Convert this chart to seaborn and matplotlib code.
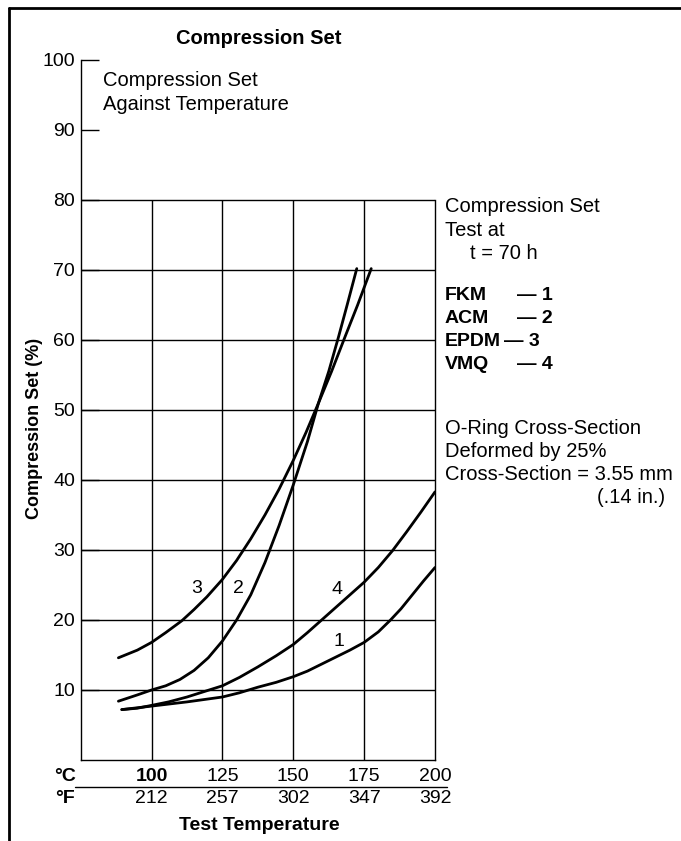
import matplotlib
matplotlib.use("Agg")
import matplotlib.pyplot as plt
from matplotlib.lines import Line2D
import seaborn as sns
import pandas as pd

# ---------------- data ----------------
fkm_t = [89.5, 100, 112.5, 125, 131, 137.5, 144, 150, 155, 160, 165, 170, 175, 180, 184.3, 188, 192.4, 196, 200]
fkm_v = [7.2, 7.7, 8.3, 9.0, 9.6, 10.4, 11.1, 11.9, 12.7, 13.7, 14.7, 15.7, 16.8, 18.3, 20.0, 21.6, 23.8, 25.6, 27.5]

acm_t = [88.3, 95, 100, 105, 110, 115, 120, 125, 130, 135, 140, 145, 150, 155, 158.9, 162.5, 166, 169, 172.4]
acm_v = [8.4, 9.3, 10.0, 10.6, 11.5, 12.8, 14.6, 17.0, 20.0, 23.6, 28.2, 33.5, 39.3, 45.5, 51.0, 55.5, 60.5, 65.0, 70.2]

epdm_t = [88.3, 95, 100, 105, 110.7, 115, 119.5, 125, 130, 135, 140, 145, 150, 154.5, 158.9, 163.5, 168.3, 172.7, 177.5]
epdm_v = [14.6, 15.7, 16.8, 18.2, 19.9, 21.5, 23.3, 25.8, 28.5, 31.6, 35.0, 38.7, 42.8, 46.8, 51.0, 55.5, 60.5, 65.0, 70.2]

vmq_t = [89.5, 95, 100, 106, 112.5, 118.75, 125, 131, 137.5, 144, 150, 155, 160, 165, 170, 175, 180, 185, 190, 195, 200]
vmq_v = [7.2, 7.4, 7.8, 8.3, 9.0, 9.8, 10.6, 11.8, 13.3, 14.9, 16.5, 18.2, 20.0, 21.8, 23.6, 25.4, 27.5, 29.9, 32.6, 35.4, 38.3]

materials = ["FKM", "ACM", "EPDM", "VMQ"]
curve_numbers = ["1", "2", "3", "4"]
label_t = [166.0, 130.8, 115.8, 165.4]
label_v = [17.0, 24.5, 24.5, 24.3]

temps_c = [100, 125, 150, 175, 200]
temps_f = [212, 257, 302, 347, 392]
y_ticks = [10, 20, 30, 40, 50, 60, 70, 80, 90, 100]
grid_y = [10, 20, 30, 40, 50, 60, 70, 80]
grid_x = [100, 125, 150, 175]

side_lines = ["Compression Set", "Test at", "t = 70 h"]
note_lines = ["O-Ring Cross-Section", "Deformed by 25%", "Cross-Section = 3.55 mm", "(.14 in.)"]

# ---------------- build frame ----------------
frames = []
for name, t, v in [("FKM", fkm_t, fkm_v), ("ACM", acm_t, acm_v),
                   ("EPDM", epdm_t, epdm_v), ("VMQ", vmq_t, vmq_v)]:
    frames.append(pd.DataFrame({"temp": t, "cs": v, "material": name}))
df = pd.concat(frames, ignore_index=True)

sns.set_style("white")
plt.rcParams["font.family"] = ["Liberation Sans", "DejaVu Sans"]
plt.rcParams["text.color"] = "black"
plt.rcParams["axes.labelcolor"] = "black"
plt.rcParams["xtick.color"] = "black"
plt.rcParams["ytick.color"] = "black"

W, H = 681, 841
fig = plt.figure(figsize=(W / 100, H / 100), dpi=100)
ax = fig.add_axes([80.7 / W, 1 - 760 / H, (435 - 80.7) / W, 700 / H])

sns.lineplot(data=df, x="temp", y="cs", hue="material",
             palette={m: "black" for m in materials}, legend=False,
             linewidth=2.0, sort=True, ax=ax)

ax.set_xlim(75, 200)
ax.set_ylim(0, 100)

# grid (box only up to 80)
ax.hlines(grid_y, 75, 200, color="black", linewidth=1.0, zorder=1)
ax.vlines(grid_x, 0, 80, color="black", linewidth=1.0, zorder=1)

for s in ["left", "bottom", "right"]:
    ax.spines[s].set_color("black")
    ax.spines[s].set_linewidth(1.0)
ax.spines["top"].set_visible(False)
ax.spines["right"].set_bounds(0, 80)

ax.set_yticks(y_ticks)
ax.set_yticklabels([str(v) for v in y_ticks])
ax.tick_params(axis="y", direction="in", length=13, width=1.0, pad=4,
               labelsize=14, colors="black", left=True)
ax.set_xticks([])
ax.set_xlabel("")
ax.set_ylabel("")

# curve numbers
for num, tx, ty in zip(curve_numbers, label_t, label_v):
    ax.text(tx, ty, num, fontsize=14, ha="center", va="center", color="black")

# bottom temperature rows
for c, f in zip(temps_c, temps_f):
    ax.text(c, -2.4, str(c), fontsize=14, ha="center", va="center",
            fontweight="bold" if c == 100 else "normal", clip_on=False)
    ax.text(c, -5.5, str(f), fontsize=14, ha="center", va="center", clip_on=False)


def fx(px):
    return px / W


def fy(py):
    return 1 - py / H


fig.text(fx(65), fy(776.7), "°C", fontsize=14, fontweight="bold", ha="center", va="center")
fig.text(fx(65), fy(798.3), "°F", fontsize=14, fontweight="bold", ha="center", va="center")
fig.add_artist(Line2D([fx(75), fx(447)], [fy(786.7), fy(786.7)], color="black", linewidth=1.0))
fig.text(fx(259), fy(825), "Test Temperature", fontsize=14, fontweight="bold",
         ha="center", va="center")

# titles
fig.text(fx(259), fy(38.5), "Compression Set", fontsize=14.5, fontweight="bold",
         ha="center", va="center")
fig.text(fx(103), fy(80), "Compression Set", fontsize=14.5, ha="left", va="center")
fig.text(fx(103), fy(105), "Against Temperature", fontsize=14.5, ha="left", va="center")
fig.text(fx(35), fy(428), "Compression Set (%)", fontsize=13, fontweight="bold",
         rotation=90, ha="center", va="center")

# right side notes
fig.text(fx(445), fy(206.7), side_lines[0], fontsize=14.5, ha="left", va="center")
fig.text(fx(445), fy(230), side_lines[1], fontsize=14.5, ha="left", va="center")
fig.text(fx(470), fy(253.3), side_lines[2], fontsize=14.5, ha="left", va="center")

nums = ["1", "2", "3", "4"]
dash_x = [517, 517, 503.5, 517]
for i, (m, n, dx) in enumerate(zip(materials, nums, dash_x)):
    yy = 295 + i * 23.3
    fig.text(fx(445), fy(yy), m, fontsize=14, fontweight="bold", ha="left", va="center")
    fig.text(fx(dx), fy(yy), "\u2014 " + n, fontsize=14, fontweight="bold", ha="left", va="center")

for i, line in enumerate(note_lines[:3]):
    fig.text(fx(445), fy(428 + i * 23.3), line, fontsize=14.5, ha="left", va="center")
fig.text(fx(665), fy(428 + 3 * 23.3), note_lines[3], fontsize=14.5, ha="right", va="center")

# outer frame (top and left only)
fig.add_artist(Line2D([fx(8.5), 1.0], [fy(7.5), fy(7.5)], color="black", linewidth=2.0))
fig.add_artist(Line2D([fx(8.5), fx(8.5)], [0.0, fy(7.5)], color="black", linewidth=2.0))

fig.savefig("out.png", dpi=100)
